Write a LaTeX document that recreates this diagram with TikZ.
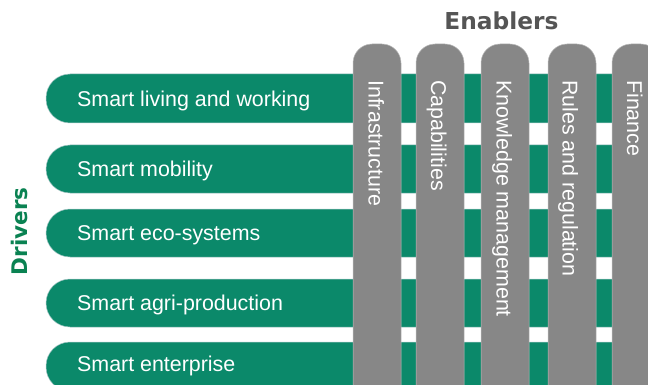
\documentclass[tikz,border=0pt]{standalone}
\usepackage{fontspec}
\setmainfont{Liberation Sans}
\newfontfamily\headfont{DejaVu Sans}
\definecolor{barGreen}{RGB}{11,137,106}
\definecolor{barEdge}{RGB}{170,200,200}
\definecolor{pillarGray}{RGB}{135,135,135}
\definecolor{pillarEdge}{RGB}{190,190,190}
\definecolor{headGray}{RGB}{85,85,85}
\definecolor{drvGreen}{RGB}{10,130,82}
\begin{document}
\begin{tikzpicture}[x=1pt,y=-1pt,
  bartext/.style={anchor=base west, inner sep=0pt, text=white, font=\fontsize{21.4}{24}\selectfont},
  piltext/.style={anchor=base west, inner sep=0pt, rotate=-90, text=white, font=\fontsize{21.4}{24}\selectfont},
  barshape/.style={fill=barGreen, draw=barEdge, line width=0.5pt, rounded corners=24pt},
  pillarshape/.style={fill=pillarGray, draw=pillarEdge, line width=0.5pt, rounded corners=19pt},
  headtext/.style={inner sep=0pt, font=\headfont\bfseries\fontsize{23.3}{26}\selectfont}]
\useasboundingbox (0,0) rectangle (648,385);
\fill[white] (0,0) rectangle (648,385);
% driver bars
\foreach \t/\b in {74/123, 145/193, 209/257, 279/327, 342/391}{
  \draw[barshape] (670,\t) -- (46,\t) -- (46,\b) -- (670,\b) -- cycle;
}
% enabler pillars
\foreach \l in {353, 416, 481, 548, 612}{
  \draw[pillarshape] (\l,410) -- (\l,44) -- (\l+48,44) -- (\l+48,410);
}
% driver texts
\node[bartext] (d1) at (77,106.4) {Smart living and working};
\node[bartext] (d2) at (77,176.8) {Smart mobility};
\node[bartext] (d3) at (77,240.2) {Smart eco-systems};
\node[bartext] (d4) at (77,310.0) {Smart agri-production};
\node[bartext] (d5) at (77,371.5) {Smart enterprise};
% enabler texts
\node[piltext] (e1) at (368.5,80) {Infrastructure};
\node[piltext] (e2) at (431,80) {Capabilities};
\node[piltext] (e3) at (496.5,80) {Knowledge management};
\node[piltext] (e4) at (562.5,80) {Rules and regulation};
\node[piltext] (e5) at (627,80) {Finance};
% headings
\node[headtext, anchor=base, text=headGray] (enablers) at (501.5,30) {Enablers};
\node[headtext, anchor=base, rotate=90, text=drvGreen, font=\headfont\bfseries\fontsize{21.5}{24}\selectfont] (drivers) at (27.5,231.5) {Drivers};
\end{tikzpicture}
\end{document}
